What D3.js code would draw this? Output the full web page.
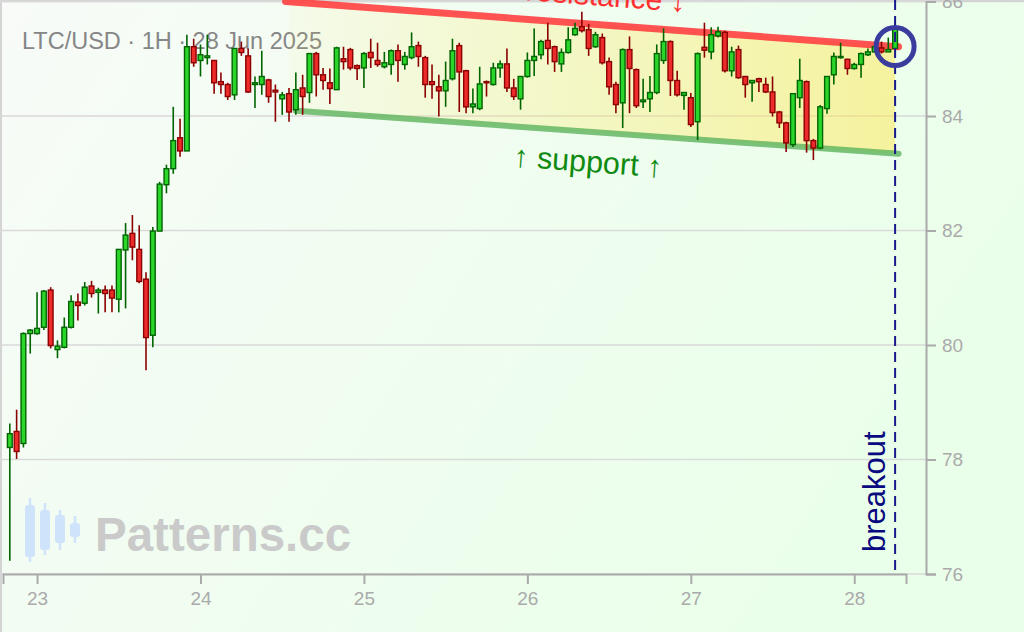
<!DOCTYPE html>
<html><head><meta charset="utf-8">
<script src="https://cdn.jsdelivr.net/npm/d3@7/dist/d3.min.js"></script>
<style>html,body{margin:0;padding:0;background:#f0fff0;}svg{display:block;}</style>
</head><body>
<svg id="chart" width="1024" height="632"></svg>
<script>
// ---- data ----
const titleText = "LTC/USD · 1H · 28 Jun 2025";
const firstCandle = "2025-06-22T20:00:00Z"; // hourly candles
const opens = [78.21,78.49,78.28,80.20,80.20,80.31,80.96,79.92,79.96,80.31,80.75,80.73,81.03,80.92,80.96,80.96,80.80,81.66,81.95,81.67,81.15,80.17,81.99,82.80,83.08,83.62,83.39,85.21,84.97,85.02,84.97,84.60,84.55,84.37,85.18,85.05,84.55,84.55,84.63,84.45,84.30,84.39,84.11,84.49,84.41,85.09,84.72,84.58,84.46,85.00,85.16,84.88,84.84,85.11,84.97,84.86,84.90,85.14,84.90,85.02,85.23,85.02,84.60,84.51,84.44,84.65,85.23,84.79,84.16,84.13,84.60,84.55,84.84,84.91,84.49,84.30,84.69,84.97,85.07,85.32,85.21,84.91,85.11,85.42,85.56,85.51,85.21,85.37,84.95,84.55,84.23,85.16,84.81,84.25,84.30,84.41,84.97,85.30,84.62,84.36,84.32,83.90,85.20,85.12,85.40,85.46,84.79,85.16,84.69,84.58,84.65,84.55,84.42,84.07,83.88,83.50,84.32,84.60,83.57,83.44,84.13,84.72,85.02,84.99,84.83,84.90,85.07,85.12,85.19,85.12,85.18];
const highs = [78.63,78.87,80.22,80.28,80.92,80.96,81.01,80.08,80.48,80.87,80.90,81.10,81.12,81.00,81.04,81.04,81.67,82.13,82.27,82.09,81.27,82.06,82.85,83.15,84.16,83.95,85.42,85.35,85.25,85.42,84.97,84.76,84.58,85.18,85.30,85.18,84.69,85.14,84.65,84.55,84.42,84.49,84.76,84.72,85.09,85.12,84.84,84.83,85.21,85.21,85.19,84.90,85.12,85.35,85.28,85.12,85.16,85.25,85.12,85.46,85.30,85.05,84.90,84.72,84.95,85.35,85.28,84.81,84.48,84.86,84.62,84.93,84.97,85.18,84.65,84.70,85.11,85.53,85.33,85.63,85.23,85.18,85.55,85.63,85.82,85.61,85.47,85.44,85.02,84.60,85.18,85.39,84.83,84.65,84.70,85.25,85.53,85.32,84.79,84.42,84.40,85.11,85.63,85.55,85.56,85.49,85.21,85.23,84.70,84.62,84.67,84.67,84.69,84.09,83.90,84.39,85.00,84.62,83.60,84.19,84.70,85.11,85.28,85.00,84.93,85.11,85.18,85.28,85.30,85.37,85.65];
const lows = [76.23,78.01,78.21,79.85,80.18,80.26,79.94,79.77,79.94,80.29,80.43,80.69,80.83,80.55,80.57,80.57,80.57,80.64,81.48,81.08,79.56,79.96,81.99,82.65,82.99,83.29,83.39,84.86,84.69,84.90,84.39,84.39,84.28,84.28,85.05,84.40,84.14,84.37,84.23,83.90,84.02,83.90,84.02,84.02,84.23,84.34,84.46,84.21,84.46,84.81,84.80,84.63,84.49,84.84,84.86,84.83,84.72,84.60,84.81,84.99,84.86,84.32,84.30,83.99,84.16,84.62,84.07,84.05,84.05,84.10,84.34,84.53,84.67,84.42,84.28,84.11,84.67,84.70,84.99,84.90,84.77,84.77,85.09,85.40,85.46,85.05,85.19,84.90,84.37,84.05,83.79,84.05,84.14,84.14,84.07,84.38,84.91,84.35,84.34,84.11,83.81,83.58,85.02,84.99,85.37,84.76,84.69,84.65,84.32,84.25,84.42,84.40,83.99,83.79,83.37,83.46,84.14,83.36,83.23,83.42,84.04,84.55,85.00,84.72,84.81,84.67,85.05,85.10,85.09,85.12,85.16];
const closes = [78.45,78.14,80.20,80.26,80.29,80.94,79.99,79.98,80.31,80.76,80.69,81.01,80.90,80.96,80.90,80.82,81.67,81.92,81.71,81.11,80.13,81.99,82.81,83.08,83.57,83.39,85.21,84.93,85.07,85.05,84.58,84.55,84.34,85.18,85.11,84.42,84.58,84.69,84.34,84.42,84.37,84.07,84.46,84.34,85.09,84.72,84.62,84.48,85.19,84.95,84.84,84.83,85.09,85.02,84.90,84.93,85.14,84.97,85.04,85.21,85.04,84.55,84.55,84.44,84.62,85.14,84.77,84.16,84.21,84.56,84.58,84.84,84.91,84.49,84.34,84.69,84.97,85.04,85.30,85.18,84.95,85.11,85.33,85.53,85.49,85.18,85.42,84.93,84.51,84.20,85.16,84.83,84.18,84.28,84.41,85.09,85.30,84.62,84.37,84.41,83.85,85.09,85.15,85.42,85.47,84.79,85.12,84.67,84.55,84.62,84.60,84.42,84.06,83.88,83.53,84.39,84.62,83.57,83.44,84.16,84.69,85.04,85.04,84.83,84.90,85.09,85.12,85.21,85.12,85.16,85.54];
const xDomainStart = "2025-06-22T19:00:00Z";
const xDomainEnd = "2025-06-28T07:36:00Z";
const dayTicks = ["2025-06-23","2025-06-24","2025-06-25","2025-06-26","2025-06-27","2025-06-28"];
const priceTicks = [76,78,80,82,84,86];
const priceDomain = [76,86];
const resistanceTimes = ["2025-06-24T12:30:00Z","2025-06-28T06:30:00Z"];
const resistanceValues = [86.0, 85.21];
const supportTimes = ["2025-06-24T14:00:00Z","2025-06-28T06:30:00Z"];
const supportValues = [84.09, 83.34];
const channelFillTimes = ["2025-06-24T13:00:00Z","2025-06-28T06:00:00Z"];
const breakoutTime = "2025-06-28T06:00:00Z";
const resistanceLabel = "↓ resistance ↓";
const supportLabel = "↑ support ↑";
const breakoutLabel = "breakout";
const watermarkText = "Patterns.cc";

// ---- setup ----
const W = 1024, H = 632;
const svg = d3.select("#chart");
const font = "'Liberation Sans', Arial, sans-serif";
const parse = s => new Date(s);
const x = d3.scaleUtc().domain([parse(xDomainStart), parse(xDomainEnd)]).range([3, 906]);
const y = d3.scaleLinear().domain(priceDomain).range([574, 1.5]);
const t0 = parse(firstCandle).getTime();
const candles = opens.map((o, i) => ({t: new Date(t0 + i * 3600e3), o, h: highs[i], l: lows[i], c: closes[i]}));

const defs = svg.append("defs");
const bg = defs.append("linearGradient").attr("id", "bg").attr("x1", "0").attr("y1", "0").attr("x2", "1").attr("y2", "0.4");
bg.append("stop").attr("offset", "0").attr("stop-color", "#f8fbf8");
bg.append("stop").attr("offset", "0.5").attr("stop-color", "#f0fdf0");
bg.append("stop").attr("offset", "1").attr("stop-color", "#eaffea");
const yf = defs.append("linearGradient").attr("id", "yf").attr("x1", "0").attr("y1", "0").attr("x2", "1").attr("y2", "0");
yf.append("stop").attr("offset", "0").attr("stop-color", "#ffe650").attr("stop-opacity", 0.06);
yf.append("stop").attr("offset", "1").attr("stop-color", "#ffe650").attr("stop-opacity", 0.5);

svg.append("rect").attr("width", W).attr("height", H).attr("fill", "url(#bg)");
svg.append("line").attr("x1", 0).attr("x2", W).attr("y1", 1).attr("y2", 1).attr("stroke", "#d4d4d4").attr("stroke-width", 2.5);
svg.append("line").attr("x1", 1).attr("x2", 1).attr("y1", 0).attr("y2", H).attr("stroke", "#d4d4d4").attr("stroke-width", 2);

// grid
svg.append("g").selectAll("line").data(priceTicks).join("line")
  .attr("x1", 0).attr("x2", 926).attr("y1", d => y(d)).attr("y2", d => y(d))
  .attr("stroke", "#d9d9d9").attr("stroke-width", 1.5);

// watermark
const wm = svg.append("g");
const icon = [[30, 498, 562, 505, 557, 10], [45, 503, 555, 510, 550, 10], [60, 510, 550, 515, 543, 10], [75, 516, 543, 523, 537, 10]];
icon.forEach(([cx, w1, w2, b1, b2, bw]) => {
  wm.append("line").attr("x1", cx).attr("x2", cx).attr("y1", w1).attr("y2", w2).attr("stroke", "#cfe3fb").attr("stroke-width", 2.5);
  wm.append("rect").attr("x", cx - bw / 2).attr("y", b1).attr("width", bw).attr("height", b2 - b1).attr("rx", 3).attr("fill", "#cfe3fb");
});
wm.append("text").attr("x", 95).attr("y", 551).attr("font-family", font).attr("font-weight", "bold")
  .attr("font-size", 47.5).attr("fill", "#cacaca").text(watermarkText);

// title
svg.append("text").attr("x", 22).attr("y", 49).attr("font-family", font).attr("font-size", 23.5)
  .attr("fill", "#868686").text(titleText);

// channel
const lerp = (ts, vs) => t => {
  const a = parse(ts[0]).getTime(), b = parse(ts[1]).getTime();
  return vs[0] + (vs[1] - vs[0]) * (t - a) / (b - a);
};
const resAt = lerp(resistanceTimes, resistanceValues);
const supAt = lerp(supportTimes, supportValues);
const fa = parse(channelFillTimes[0]), fb = parse(channelFillTimes[1]);
const poly = [[fa, resAt(fa)], [fb, resAt(fb)], [fb, supAt(fb)], [fa, supAt(fa)]];
svg.append("path").attr("d", d3.line().x(d => x(d[0])).y(d => y(d[1]))(poly) + "Z").attr("fill", "url(#yf)");

const line = d3.line().x(d => x(d[0])).y(d => y(d[1]));
svg.append("path").attr("d", line(supportTimes.map((t, i) => [parse(t), supportValues[i]])))
  .attr("stroke", "#5cb35c").attr("stroke-opacity", 0.8).attr("stroke-width", 6).attr("stroke-linecap", "round").attr("fill", "none");
svg.append("path").attr("d", line(resistanceTimes.map((t, i) => [parse(t), resistanceValues[i]])))
  .attr("stroke", "#ff4040").attr("stroke-opacity", 0.9).attr("stroke-width", 7).attr("stroke-linecap", "round").attr("fill", "none");

// candles
const step = x(new Date(t0 + 3600e3)) - x(new Date(t0));
const bw = step * 0.7;
const cg = svg.append("g").selectAll("g").data(candles).join("g");
cg.append("line").attr("x1", d => x(d.t)).attr("x2", d => x(d.t))
  .attr("y1", d => y(d.h)).attr("y2", d => y(d.l))
  .attr("stroke", d => d.c >= d.o ? "#006400" : "#8b0000").attr("stroke-width", 1.6);
cg.append("rect").attr("x", d => x(d.t) - bw / 2).attr("width", bw)
  .attr("y", d => y(Math.max(d.o, d.c)))
  .attr("height", d => Math.max(1, Math.abs(y(d.o) - y(d.c))))
  .attr("fill", d => d.c >= d.o ? "#2bd62b" : "#ee2b2b")
  .attr("stroke", d => d.c >= d.o ? "#006400" : "#8b0000").attr("stroke-width", 1.4);

// labels along lines
const r0 = [x(parse(resistanceTimes[0])), y(resistanceValues[0])];
const r1 = [x(parse(resistanceTimes[1])), y(resistanceValues[1])];
const ang = Math.atan2(r1[1] - r0[1], r1[0] - r0[0]) * 180 / Math.PI;
const midT = new Date((parse(resistanceTimes[0]).getTime() + parse(resistanceTimes[1]).getTime()) / 2);
svg.append("text").attr("font-family", font).attr("font-size", 30).attr("fill", "#ff3030")
  .attr("text-anchor", "middle")
  .attr("transform", `translate(${x(midT)},${y(resAt(midT))}) rotate(${ang})`)
  .attr("y", -19).text(resistanceLabel);
svg.append("text").attr("font-family", font).attr("font-size", 30.5).attr("fill", "#108a10")
  .attr("text-anchor", "middle")
  .attr("transform", `translate(${x(midT) - 2},${y(supAt(midT))}) rotate(${ang})`)
  .attr("y", 40).text(supportLabel);

// breakout
const bx = x(parse(breakoutTime));
svg.append("line").attr("x1", bx).attr("x2", bx).attr("y1", 0).attr("y2", y(priceDomain[0]))
  .attr("stroke", "#1a1a8c").attr("stroke-width", 2).attr("stroke-dasharray", "10,6");
svg.append("text").attr("font-family", font).attr("font-size", 31).attr("fill", "#0a0a80")
  .attr("transform", `translate(${bx - 10},552) rotate(-90)`).text(breakoutLabel);
const last = candles[candles.length - 1];
svg.append("circle").attr("cx", x(last.t)).attr("cy", y(resAt(last.t.getTime())))
  .attr("r", 19).attr("fill", "none").attr("stroke", "#3a3c9e").attr("stroke-width", 5);

// axes
const xa = svg.append("g").attr("transform", "translate(0,574)")
  .call(d3.axisBottom(x).tickValues(dayTicks.map(d => parse(d + "T00:00:00Z"))).tickFormat(d3.utcFormat("%d")).tickSize(10).tickPadding(8));
const ya = svg.append("g").attr("transform", "translate(926,0)")
  .call(d3.axisRight(y).tickValues(priceTicks).tickSize(10).tickPadding(6));
[xa, ya].forEach(a => {
  a.selectAll("path,line").attr("stroke", "#aaaaaa").attr("stroke-width", 2);
  a.selectAll("text").attr("fill", "#aaaaaa").attr("font-size", 19).attr("font-family", font);
});
</script>
</body></html>
